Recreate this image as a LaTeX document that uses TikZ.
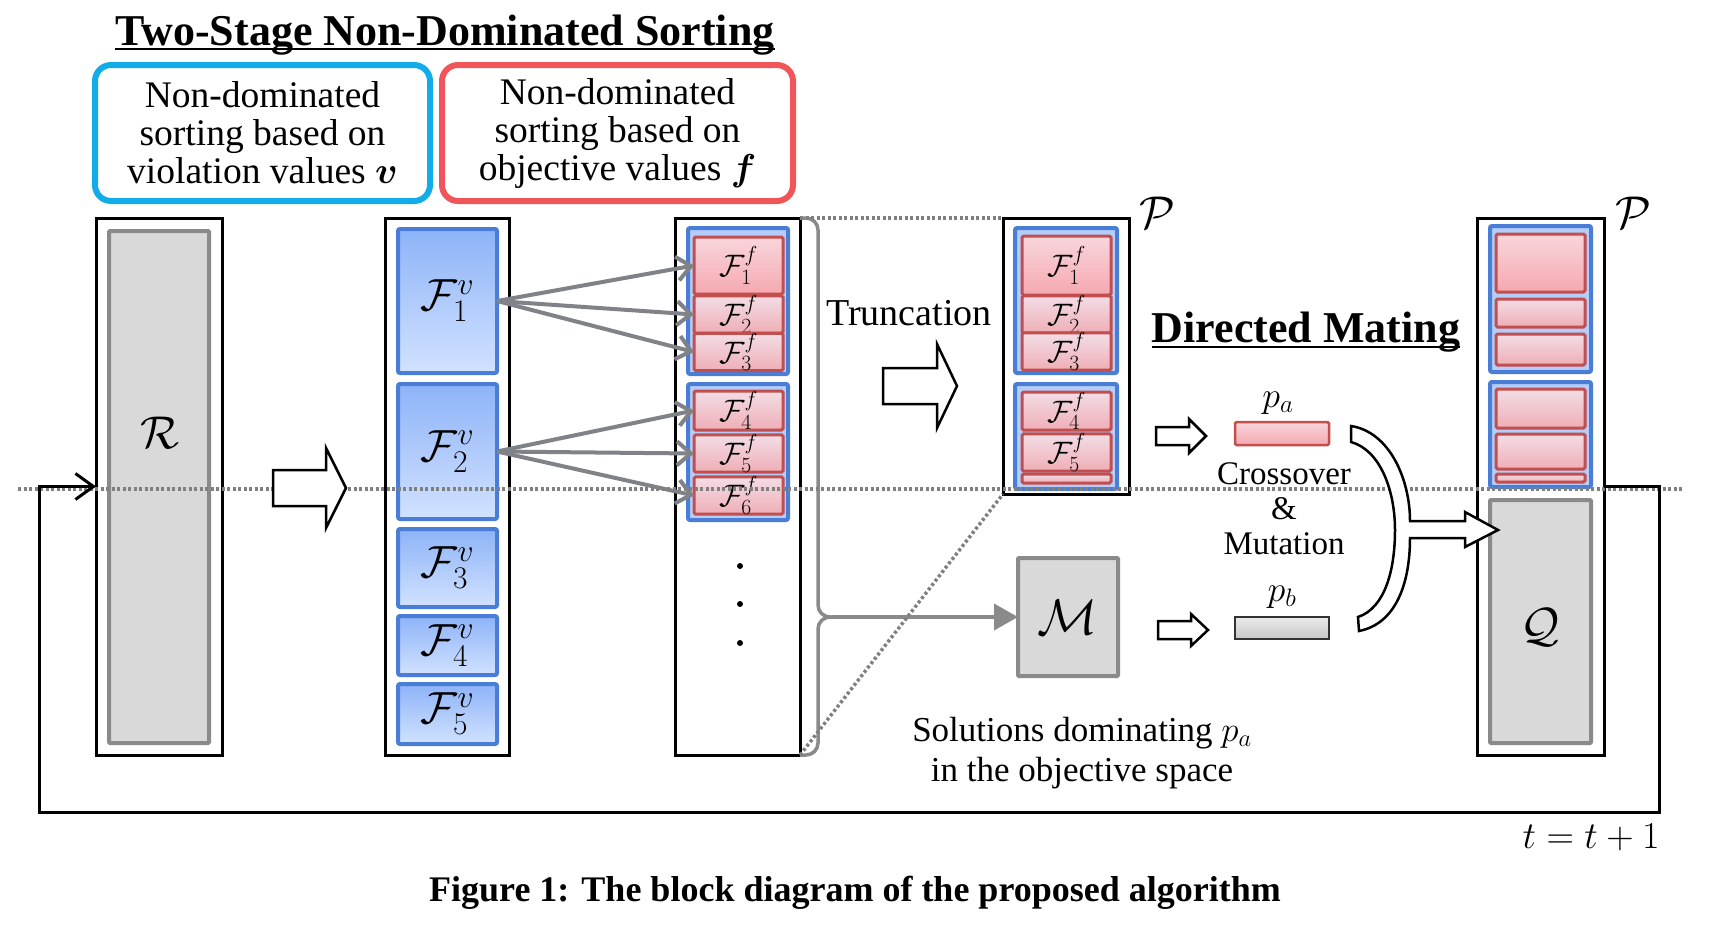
\RequirePackage{fix-cm}
\documentclass[tikz,border=0pt]{standalone}
\usepackage{amsmath,bm}
\usepackage{fontspec}
\setmainfont{Liberation Serif}
\usetikzlibrary{arrows.meta,calc}
\definecolor{cyanbd}{HTML}{12ACE8}
\definecolor{redhd}{HTML}{F0555A}
\definecolor{bluebd}{HTML}{4A7DD6}
\definecolor{fvtop}{HTML}{8DB3F8}
\definecolor{fvbot}{HTML}{D2E2FF}
\definecolor{grpfill}{HTML}{B4CDFB}
\definecolor{redbd}{HTML}{C24E4E}
\definecolor{rtop}{HTML}{F3DDE6}
\definecolor{rbot}{HTML}{EFAEB6}
\definecolor{r1top}{HTML}{F8D6DC}
\definecolor{r1bot}{HTML}{F6A8B0}
\definecolor{greyfill}{HTML}{D9D9D9}
\definecolor{greybd}{HTML}{8A8A8A}
\definecolor{arrowgrey}{HTML}{7F8388}
\definecolor{dotgrey}{HTML}{808080}
\newcommand\fs[2]{\fontsize{#1}{#2}\selectfont}
\newcommand\bx[7]{%
  \pgfmathsetmacro\bxw{#5-#3}\pgfmathsetmacro\bxh{#6-#4}%
  \pgfmathsetmacro\bxcx{(#3+#5)/2}\pgfmathsetmacro\bxcy{(#4+#6)/2}%
  \node[#1,minimum width=\bxw pt,minimum height=\bxh pt] (#2) at (\bxcx,\bxcy) {#7};}
\newcommand\harrow[6]{%
  \draw[hollow] (#1,{#4-#5}) -- (#3,{#4-#5}) -- (#3,{#4-#6}) -- (#2,#4) -- (#3,{#4+#6}) -- (#3,{#4+#5}) -- (#1,{#4+#5}) -- cycle;}
\begin{document}
\begin{tikzpicture}[x=1pt,y=-1pt,
  every node/.style={inner sep=0pt,outer sep=0pt},
  col/.style={draw=black,line width=3pt,fill=white},
  fv/.style={draw=bluebd,line width=4pt,rounded corners=2pt,top color=fvtop,bottom color=fvbot},
  grp/.style={draw=bluebd,line width=4pt,rounded corners=2pt,fill=grpfill},
  rb/.style={draw=redbd,line width=3pt,rounded corners=1.5pt,top color=rtop,bottom color=rbot},
  rbone/.style={rb,top color=r1top,bottom color=r1bot},
  gbox/.style={draw=greybd,line width=4pt,fill=greyfill,rounded corners=1pt},
  hdr/.style={line width=6pt,rounded corners=16pt,fill=white,align=center,font=\fs{37.5}{38}},
  garrow/.style={draw=arrowgrey,line width=4pt,-{Straight Barb[length=14pt,width=24pt]}},
  marrow/.style={draw=greybd,line width=4pt,-{Triangle[length=24pt,width=26pt]}},
  brace/.style={draw=greybd,line width=3.5pt,rounded corners=12pt},
  dotline/.style={draw=dotgrey,line width=3.5pt,dash pattern=on 3pt off 2.5pt},
  hollow/.style={draw=black,line width=2.5pt,fill=white,line join=miter},
  fb/.style={draw=black,line width=3pt},
  flab/.style={font=\fs{31}{31}},
  vlab/.style={font=\fs{45}{45}},
  txt/.style={font=\fs{38}{38},align=center}]
\useasboundingbox (0,0) rectangle (1733,926);

% title
\node[anchor=base,font=\fs{44}{48}\bfseries] (title) at (445,45) {Two-Stage Non-Dominated Sorting};
\draw[line width=2pt] ([yshift=-4pt]title.base west) -- ([yshift=-4pt]title.base east);

% header boxes
\bx{hdr,draw=cyanbd}{hv}{95}{65}{430}{201}{Non-dominated\\ sorting based on\\ violation values $\bm{v}$}
\bx{hdr,draw=redhd}{hf}{442}{65}{793}{201}{Non-dominated\\ sorting based on\\ objective values $\bm{f}$}

% R column
\bx{col}{Rcol}{96}{218}{222}{755}{}
\bx{gbox}{Rin}{109}{231}{209}{743}{}
\node[font=\fs{46}{46}] (Rlab) at (160,433) {$\mathcal{R}$};

% Fv column
\bx{col}{Fvcol}{385}{218}{509}{755}{}
\bx{fv,vlab}{F1v}{398}{229}{497}{373}{$\mathcal{F}^{v}_{1}$}
\bx{fv,vlab}{F2v}{398}{384}{497}{519}{$\mathcal{F}^{v}_{2}$}
\bx{fv,vlab}{F3v}{398}{529}{497}{607}{$\mathcal{F}^{v}_{3}$}
\bx{fv,vlab}{F4v}{398}{616}{497}{675}{$\mathcal{F}^{v}_{4}$}
\bx{fv,vlab}{F5v}{398}{684}{497}{744}{$\mathcal{F}^{v}_{5}$}

% Ff column
\bx{col}{Ffcol}{675}{218}{800}{755}{}
\bx{grp}{G1}{688}{228}{788}{374}{}
\bx{rbone,flab}{F1f}{694}{237}{783}{294}{$\mathcal{F}^{f}_{1}$}
\bx{rb,flab}{F2f}{694}{300}{783}{329}{$\mathcal{F}^{f}_{2}$}
\bx{rb,flab}{F3f}{694}{336}{783}{368}{$\mathcal{F}^{f}_{3}$}
\bx{grp}{G2}{688}{384}{788}{520}{}
\bx{rb,flab}{F4f}{694}{391}{783}{430}{$\mathcal{F}^{f}_{4}$}
\bx{rb,flab}{F5f}{694}{436}{783}{471}{$\mathcal{F}^{f}_{5}$}
\bx{rb,flab}{F6f}{694}{477}{783}{514}{$\mathcal{F}^{f}_{6}$}
\foreach \yy/\nm in {566/d1,604/d2,643/d3}{\node[circle,fill=black,minimum size=6pt] (\nm) at (740,\yy) {};}

% P column (middle)
\bx{col}{Pcol}{1003}{218}{1129}{494}{}
\bx{grp}{PG1}{1015}{228}{1117}{373}{}
\bx{rbone,flab}{P1}{1022}{236}{1111}{295}{$\mathcal{F}^{f}_{1}$}
\bx{rb,flab}{P2}{1022}{300}{1111}{329}{$\mathcal{F}^{f}_{2}$}
\bx{rb,flab}{P3}{1022}{336}{1111}{367}{$\mathcal{F}^{f}_{3}$}
\bx{grp}{PG2}{1015}{384}{1117}{489}{}
\bx{rb,flab}{P4}{1022}{392}{1111}{430}{$\mathcal{F}^{f}_{4}$}
\bx{rb,flab}{P5}{1022}{436}{1111}{469}{$\mathcal{F}^{f}_{5}$}
\bx{rb}{P6}{1022}{474}{1111}{483}{}
\node[font=\fs{46}{46}] (Plab1) at (1157,213) {$\mathcal{P}$};

% Q column (right)
\bx{col}{Qcol}{1477}{218}{1604}{755}{}
\bx{grp}{QG1}{1490}{226}{1591}{372}{}
\bx{rbone}{Q1}{1496}{234}{1585}{292}{}
\bx{rb}{Q2}{1496}{299}{1585}{327}{}
\bx{rb}{Q3}{1496}{334}{1585}{365}{}
\bx{grp}{QG2}{1490}{382}{1591}{487}{}
\bx{rb}{Q4}{1496}{389}{1585}{428}{}
\bx{rb}{Q5}{1496}{434}{1585}{469}{}
\bx{rb}{Q6}{1496}{474}{1585}{482}{}
\bx{gbox}{Qin}{1490}{500}{1591}{743}{}
\node[font=\fs{48}{48}] (Qlab) at (1540,627) {$\mathcal{Q}$};
\node[font=\fs{46}{46}] (Plab2) at (1633,213) {$\mathcal{P}$};

% M and parents
\bx{gbox,font=\fs{50}{50}}{M}{1018}{558}{1118}{676}{$\mathcal{M}$}
\bx{rbone,line width=2.5pt}{pa}{1235}{422}{1329}{445}{}
\bx{draw=black!80,line width=2.5pt,top color=black!8,bottom color=black!22}{pb}{1235}{617}{1329}{639}{}
\node[font=\fs{36}{36}] (palab) at (1278,403) {$p_a$};
\node[font=\fs{36}{36}] (pblab) at (1282,597) {$p_b$};

% Fv -> Ff arrows
\draw[garrow] (F1v.east) -- (F1f.west);
\draw[garrow] (F1v.east) -- (F2f.west);
\draw[garrow] (F1v.east) -- (F3f.west);
\draw[garrow] (F2v.east) -- (F4f.west);
\draw[garrow] (F2v.east) -- (F5f.west);
\draw[garrow] (F2v.east) -- (F6f.west);

% brace and arrow to M
\coordinate (brtip) at (832,617);
\draw[brace] (Ffcol.north east) -- (818,218) -- (818,617) -- (brtip);
\draw[brace] (Ffcol.south east) -- (818,755) -- (818,617) -- (brtip);
\draw[marrow] (brtip) -- (M.west);

% dotted lines
\coordinate (dotL) at (18,489);
\coordinate (dotR) at (1682,489);
\draw[dotline] (dotL) -- (dotR);
\draw[dotline] (Ffcol.north east) -- (Pcol.north west);
\draw[dotline] (Ffcol.south east) -- (Pcol.south west);

% hollow arrows
\harrow{273}{346}{326}{488}{18}{40}
\harrow{883}{957}{937}{386}{18}{42}
\harrow{1156}{1206}{1189}{436}{9}{17}
\harrow{1158}{1208}{1191}{630}{9}{16}

% merging band arrow
\draw[hollow] (1351,426) .. controls (1390,432) and (1410,480) .. (1410,521)
  -- (1465,521) -- (1465,512) -- (1498,530) -- (1465,547) -- (1465,538) -- (1410,538)
  .. controls (1410,585) and (1395,624) .. (1359,631) -- (1358,617)
  .. controls (1385,608) and (1395,570) .. (1395,530)
  .. controls (1395,490) and (1380,450) .. (1351,442) -- cycle;

% feedback loop
\coordinate (fbR) at (1659,812);
\coordinate (fbL) at (39,812);
\draw[fb,-{Straight Barb[length=18pt,width=26pt]}] (Qcol.east) -| (fbR) -- (fbL) |- (Rcol.west);

% texts
\node[txt] (trunc) at (909,313) {Truncation};
\node[anchor=base,font=\fs{44}{48}\bfseries] (dm) at (1306,342) {Directed Mating};
\draw[line width=2pt] ([yshift=-5pt]dm.base west) -- ([yshift=-5pt]dm.base east);
\node[font=\fs{33}{35},align=center] (cm) at (1284,509) {Crossover\\ \&\\ Mutation};
\node[txt,font=\fs{35}{40}] (sol) at (1082,753) {Solutions dominating $p_a$\\ in the objective space};
\node[font=\fs{38}{38}] (tt) at (1591,837) {$t=t+1$};
\node[font=\fs{36}{38}\bfseries] (cap) at (855,893) {Figure 1: The block diagram of the proposed algorithm};
\end{tikzpicture}
\end{document}
